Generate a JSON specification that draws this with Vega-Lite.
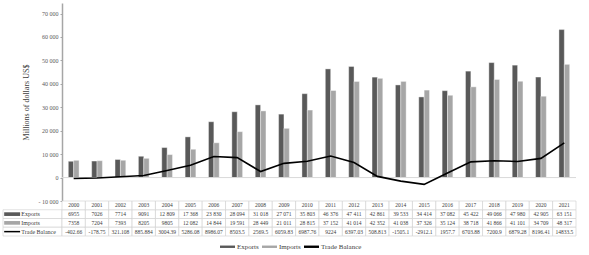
{
  "$schema": "https://vega.github.io/schema/vega-lite/v6.json",
  "padding": {"left": 2, "top": 3, "right": 5, "bottom": 2},
  "background": "white",
  "bounds": "flush",
  "spacing": 0,
  "columns": 2,
  "config": {
    "view": {"stroke": null},
    "font": "Liberation Serif",
    "concat": {"spacing": 0},
    "locale": {"number": {"decimal": ".", "thousands": " ", "grouping": [3], "currency": ["", ""]}}
  },
  "data": {"values": [
    {"year": "2000", "series": "Exports", "value": 6955}, {"year": "2000", "series": "Imports", "value": 7358}, {"year": "2000", "series": "Trade Balance", "value": -402.66},
    {"year": "2001", "series": "Exports", "value": 7026}, {"year": "2001", "series": "Imports", "value": 7204}, {"year": "2001", "series": "Trade Balance", "value": -178.75},
    {"year": "2002", "series": "Exports", "value": 7714}, {"year": "2002", "series": "Imports", "value": 7393}, {"year": "2002", "series": "Trade Balance", "value": 321.108},
    {"year": "2003", "series": "Exports", "value": 9091}, {"year": "2003", "series": "Imports", "value": 8205}, {"year": "2003", "series": "Trade Balance", "value": 885.884},
    {"year": "2004", "series": "Exports", "value": 12809}, {"year": "2004", "series": "Imports", "value": 9805}, {"year": "2004", "series": "Trade Balance", "value": 3004.39},
    {"year": "2005", "series": "Exports", "value": 17368}, {"year": "2005", "series": "Imports", "value": 12082}, {"year": "2005", "series": "Trade Balance", "value": 5286.08},
    {"year": "2006", "series": "Exports", "value": 23830}, {"year": "2006", "series": "Imports", "value": 14844}, {"year": "2006", "series": "Trade Balance", "value": 8986.07},
    {"year": "2007", "series": "Exports", "value": 28094}, {"year": "2007", "series": "Imports", "value": 19591}, {"year": "2007", "series": "Trade Balance", "value": 8503.5},
    {"year": "2008", "series": "Exports", "value": 31018}, {"year": "2008", "series": "Imports", "value": 28449}, {"year": "2008", "series": "Trade Balance", "value": 2569.5},
    {"year": "2009", "series": "Exports", "value": 27071}, {"year": "2009", "series": "Imports", "value": 21011}, {"year": "2009", "series": "Trade Balance", "value": 6059.83},
    {"year": "2010", "series": "Exports", "value": 35803}, {"year": "2010", "series": "Imports", "value": 28815}, {"year": "2010", "series": "Trade Balance", "value": 6987.76},
    {"year": "2011", "series": "Exports", "value": 46376}, {"year": "2011", "series": "Imports", "value": 37152}, {"year": "2011", "series": "Trade Balance", "value": 9224},
    {"year": "2012", "series": "Exports", "value": 47411}, {"year": "2012", "series": "Imports", "value": 41014}, {"year": "2012", "series": "Trade Balance", "value": 6397.03},
    {"year": "2013", "series": "Exports", "value": 42861}, {"year": "2013", "series": "Imports", "value": 42352}, {"year": "2013", "series": "Trade Balance", "value": 508.813},
    {"year": "2014", "series": "Exports", "value": 39533}, {"year": "2014", "series": "Imports", "value": 41038}, {"year": "2014", "series": "Trade Balance", "value": -1505.1},
    {"year": "2015", "series": "Exports", "value": 34414}, {"year": "2015", "series": "Imports", "value": 37326}, {"year": "2015", "series": "Trade Balance", "value": -2912.1},
    {"year": "2016", "series": "Exports", "value": 37082}, {"year": "2016", "series": "Imports", "value": 35124}, {"year": "2016", "series": "Trade Balance", "value": 1957.7},
    {"year": "2017", "series": "Exports", "value": 45422}, {"year": "2017", "series": "Imports", "value": 38718}, {"year": "2017", "series": "Trade Balance", "value": 6703.88},
    {"year": "2018", "series": "Exports", "value": 49066}, {"year": "2018", "series": "Imports", "value": 41866}, {"year": "2018", "series": "Trade Balance", "value": 7200.9},
    {"year": "2019", "series": "Exports", "value": 47980}, {"year": "2019", "series": "Imports", "value": 41101}, {"year": "2019", "series": "Trade Balance", "value": 6879.28},
    {"year": "2020", "series": "Exports", "value": 42905}, {"year": "2020", "series": "Imports", "value": 34709}, {"year": "2020", "series": "Trade Balance", "value": 8196.41},
    {"year": "2021", "series": "Exports", "value": 63151}, {"year": "2021", "series": "Imports", "value": 48317}, {"year": "2021", "series": "Trade Balance", "value": 14833.5}
  ]},
  "resolve": {"scale": {"x": "independent", "y": "independent", "xOffset": "independent", "color": "shared"}},
  "concat": [
    {
      "width": 59, "height": 198,
      "data": {"values": []},
      "mark": "point"
    },
    {
      "width": 514, "height": 198,
      "layer": [
        {
          "transform": [{"filter": "datum.series !== 'Trade Balance'"}],
          "mark": {"type": "bar", "stroke": "#ffffff", "strokeWidth": 0.4},
          "encoding": {
            "x": {"field": "year", "type": "ordinal", "axis": null, "scale": {"paddingInner": 0.54, "paddingOuter": 0.27}},
            "xOffset": {"field": "series", "type": "nominal", "sort": ["Exports", "Imports"]},
            "y": {
              "field": "value", "type": "quantitative",
              "scale": {"domain": [-10000, 74500], "nice": false, "zero": false},
              "axis": {
                "values": [-10000, 0, 10000, 20000, 30000, 40000, 50000, 60000, 70000],
                "tickCount": 20,
                "format": ",d",
                "labelExpr": "replace(datum.label, '−', '- ')",
                "labelOverlap": false,
                "labelBound": false,
                "labelFlush": false,
                "title": "Millions of dollars US$",
                "titleFontSize": 8, "titleFontWeight": "normal", "titleColor": "#404040", "titlePadding": 8,
                "labelFontSize": 6, "labelColor": "#595959", "labelPadding": 2,
                "tickSize": 2, "tickColor": "#a6a6a6", "domainColor": "#a6a6a6", "domainWidth": 1.5,
                "grid": false
              }
            },
            "color": {
              "field": "series", "type": "nominal",
              "scale": {"domain": ["Exports", "Imports", "Trade Balance"], "range": ["#595959", "#a6a6a6", "#000000"]},
              "legend": {
                "orient": "none", "legendX": 217, "legendY": 236, "direction": "horizontal",
                "title": null, "labelFontSize": 7, "labelColor": "#404040", "labelOffset": 2, "columnPadding": 3,
                "symbolSize": 225, "symbolType": "M-1,-0.16H1V0.16H-1Z", "symbolStrokeWidth": 0,
                "encode": {"symbols": {"update": {
                  "shape": {"signal": "datum.value === 'Trade Balance' ? 'M-1,-0.08H1V0.08H-1Z' : 'M-1,-0.16H1V0.16H-1Z'"},
                  "fill": {"signal": "scale('color', datum.value)"},
                  "fillOpacity": {"value": 1},
                  "strokeWidth": {"value": 0}
                }}}
              }
            }
          }
        },
        {
          "transform": [{"filter": "datum.year === '2000' && datum.series === 'Exports'"}],
          "mark": {"type": "rule", "color": "#d9d9d9", "strokeWidth": 1},
          "encoding": {"y": {"datum": 0, "type": "quantitative"}}
        },
        {
          "transform": [{"filter": "datum.series === 'Trade Balance'"}],
          "mark": {"type": "line", "strokeWidth": 1.6},
          "encoding": {
            "x": {"field": "year", "type": "ordinal"},
            "y": {"field": "value", "type": "quantitative"},
            "color": {"field": "series", "type": "nominal"}
          }
        }
      ]
    },
    {
      "width": 59, "height": 35,
      "transform": [{"filter": "datum.year === '2000'"}],
      "encoding": {
        "y": {"field": "series", "type": "nominal", "axis": null,
              "scale": {"domain": ["Year", "Exports", "Imports", "Trade Balance"], "paddingInner": 0, "paddingOuter": 0}}
      },
      "layer": [
        {"mark": {"type": "bar", "fill": "white", "stroke": "#cfcfcf", "strokeWidth": 0.6}},
        {
          "transform": [{"filter": "datum.series !== 'Trade Balance'"}],
          "mark": {"type": "bar", "height": {"band": 0.42}},
          "encoding": {
            "x": {"datum": 0.02, "type": "quantitative", "scale": {"domain": [0, 1], "nice": false, "zero": false}, "axis": null},
            "x2": {"datum": 0.29},
            "color": {"field": "series", "type": "nominal", "legend": null}
          }
        },
        {
          "transform": [{"filter": "datum.series === 'Trade Balance'"}],
          "mark": {"type": "rule", "strokeWidth": 1.5},
          "encoding": {
            "x": {"datum": 0.02, "type": "quantitative"},
            "x2": {"datum": 0.29},
            "color": {"field": "series", "type": "nominal", "legend": null}
          }
        },
        {
          "mark": {"type": "text", "align": "left", "fontSize": 6, "color": "#404040"},
          "encoding": {"x": {"datum": 0.31, "type": "quantitative"}, "text": {"field": "series"}}
        }
      ]
    },
    {
      "width": 514, "height": 35,
      "encoding": {
        "x": {"field": "year", "type": "ordinal", "axis": null, "scale": {"paddingInner": 0, "paddingOuter": 0}}
      },
      "layer": [
        {
          "mark": {"type": "rect", "fill": "white", "stroke": "#cfcfcf", "strokeWidth": 0.6},
          "encoding": {"y": {"field": "series", "type": "nominal", "axis": null,
            "scale": {"domain": ["Year", "Exports", "Imports", "Trade Balance"], "paddingInner": 0, "paddingOuter": 0}}}
        },
        {
          "transform": [{"filter": "datum.series === 'Exports'"}],
          "mark": {"type": "rect", "fill": "white", "stroke": "#cfcfcf", "strokeWidth": 0.6},
          "encoding": {"y": {"datum": "Year", "type": "nominal"}}
        },
        {
          "transform": [{"filter": "datum.series === 'Exports'"}],
          "mark": {"type": "text", "fontSize": 5.5, "color": "#404040"},
          "encoding": {"y": {"datum": "Year", "type": "nominal"}, "text": {"field": "year"}}
        },
        {
          "transform": [{"filter": "datum.series !== 'Trade Balance' && datum.value < 10000"}],
          "mark": {"type": "text", "fontSize": 5.5, "color": "#404040"},
          "encoding": {"y": {"field": "series", "type": "nominal"}, "text": {"field": "value", "type": "quantitative", "format": "d"}}
        },
        {
          "transform": [{"filter": "datum.series !== 'Trade Balance' && datum.value >= 10000"}],
          "mark": {"type": "text", "fontSize": 5.5, "color": "#404040"},
          "encoding": {"y": {"field": "series", "type": "nominal"}, "text": {"field": "value", "type": "quantitative", "format": ",d"}}
        },
        {
          "transform": [{"filter": "datum.series === 'Trade Balance'"}],
          "mark": {"type": "text", "fontSize": 5.5, "color": "#404040"},
          "encoding": {"y": {"field": "series", "type": "nominal"}, "text": {"field": "value", "type": "nominal"}}
        }
      ]
    }
  ]
}
